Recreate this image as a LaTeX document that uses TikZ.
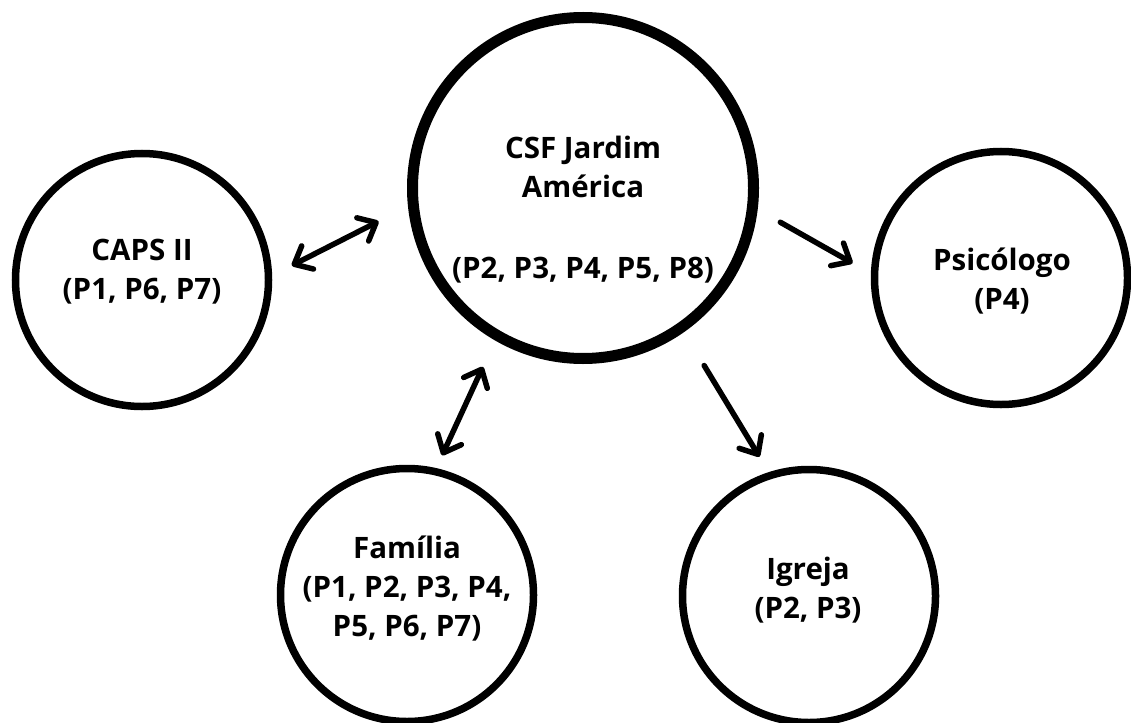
\documentclass[tikz,border=0pt]{standalone}
\usepackage{fontspec}
\setmainfont{Open Sans}
\usetikzlibrary{arrows.meta}

\tikzset{
  chev/.tip={Straight Barb[length=15pt,width=26pt,line cap=round,line join=round]},
  place/.style={circle,draw,line width=7.5pt,minimum size=253pt,inner sep=0pt},
  hub/.style={place,line width=11pt,minimum size=341pt},
  txt/.style={align=center,inner sep=0pt,font=\bfseries\fontsize{29.5}{39}\selectfont},
  link/.style={line width=5.5pt,line cap=round},
  twoway/.style={link,chev-chev},
  oneway/.style={link,-chev}
}

\begin{document}
\begin{tikzpicture}[x=1pt,y=-1pt]
\useasboundingbox (0,0) rectangle (1131,722);
% circles
\node[hub] (csf) at (583,188) {};
\node[place] (caps) at (142,280) {};
\node[place] (psi) at (1001,278) {};
\node[place] (fam) at (407,595) {};
\node[place] (igr) at (809,596) {};
% texts
\node[txt] (csfT) at (583,210) {CSF Jardim\\América\\[42pt](P2, P3, P4, P5, P8)};
\node[txt] (capsT) at (142,272) {CAPS II\\(P1, P6, P7)};
\node[txt] (psiT) at (1002,281) {Psicólogo\\(P4)};
\node[txt] (famT) at (407,589) {Família\\(P1, P2, P3, P4,\\P5, P6, P7)};
\node[txt] (igrT) at (808,590) {Igreja\\(P2, P3)};
% arrows
\draw[twoway,shorten <=33pt,shorten >=22pt] (csf.186) -- (caps.2);
\draw[twoway,shorten <=29pt,shorten >=14pt] (csf.240) -- (fam.77);
\draw[oneway,shorten <=26pt,shorten >=21pt] (csf.-7) -- (psi.178);
\draw[oneway,shorten <=39pt,shorten >=18pt] (csf.-55) -- (igr.108);
\end{tikzpicture}
\end{document}
